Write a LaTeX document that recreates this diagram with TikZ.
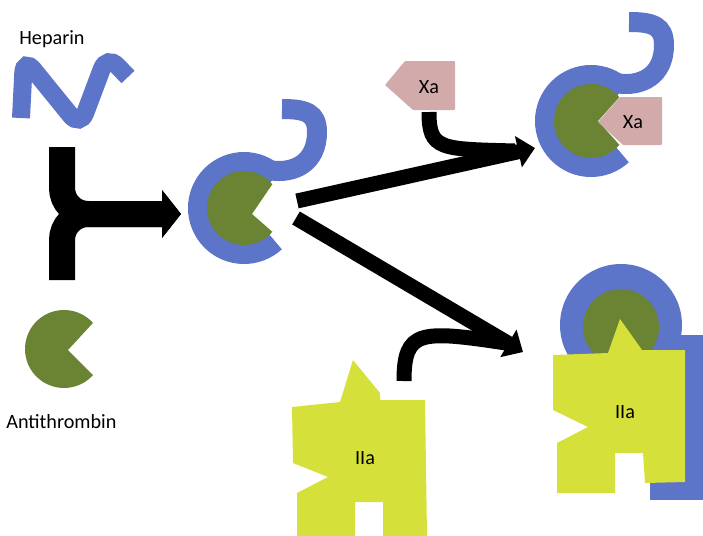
\documentclass[tikz,border=0pt]{standalone}
\usepackage{fontspec}
\setmainfont{Carlito}
\usetikzlibrary{arrows.meta}

\definecolor{heparinblue}{RGB}{93,117,200}
\definecolor{atgreen}{RGB}{107,132,51}
\definecolor{xapink}{RGB}{210,170,169}
\definecolor{thrombinyellow}{RGB}{213,224,58}

% one pixel of the layout grid
\newcommand{\PX}{0.02cm}
\newcommand{\RINGRADIUS}{46*\PX}
\newcommand{\GREENRADIUS}{37*\PX}

\tikzset{
  band/.style={draw=heparinblue, line width=20*\PX},
  flow/.style={draw=black, line width=15*\PX},
  flowtip/.style={-{Triangle[length=0.34cm, width=0.62cm]}},
  lbl/.style={font=\fontsize{11.5}{14}\selectfont, inner sep=0pt},
  % heparin wrapped round antithrombin, with its free hook
  pics/boundring/.style={code={
    \draw[band] (45:\RINGRADIUS) arc[start angle=45, end angle=313, radius=\RINGRADIUS];
    \draw[band] (55:\RINGRADIUS) .. controls (50,-34) and (73,-45) .. (73,-76)
      .. controls (73,-95) and (62,-99) .. (38,-99);
  }},
}

\begin{document}
\begin{tikzpicture}[x=\PX, y=-\PX]
    \useasboundingbox (0,0) rectangle (703,535);

    % heparin chain
    \draw[band, line width=18*\PX, rounded corners=0.3cm] (21,118) -- (24,58) -- (80,127) -- (107,55) -- (128,77);
    \node[lbl, anchor=west] (heparin) at (19,39) {Heparin};

    % antithrombin
    \begin{scope}[shift={(64,349)}]
        \fill[atgreen] (4,1) -- (42:39*\PX) arc[start angle=42, end angle=318, radius=39*\PX] -- cycle;
    \end{scope}
    \node[lbl, anchor=west] (antithrombin) at (6,422) {Antithrombin};

    % both meet and bind
    \coordinate (hepin) at (62,147);
    \coordinate (atin) at (62,280);
    \coordinate (mergetip) at (181,214);
    \draw[line width=26*\PX, rounded corners=0.52cm, -{Triangle[length=0.38cm, width=0.94cm]}] (hepin) |- (mergetip);
    \draw[line width=26*\PX, rounded corners=0.52cm, -{Triangle[length=0.38cm, width=0.94cm]}] (atin) |- (mergetip);

    % heparin-antithrombin complex
    \begin{scope}[shift={(244,208)}]
        \pic {boundring};
        \fill[atgreen] (8,6) -- (40:\GREENRADIUS) arc[start angle=40, end angle=320, radius=\GREENRADIUS] -- cycle;
    \end{scope}

    % free factor Xa
    \fill[xapink, rounded corners=0.5pt] (385,85) -- (405,61) -- (455,61) -- (455,110) -- (413,110) -- cycle;
    \node[lbl] (xa) at (429,87) {Xa};

    % complex with Xa
    \begin{scope}[shift={(591,121)}]
        \pic {boundring};
        \fill[atgreen] (7,0) -- (40:\GREENRADIUS) arc[start angle=40, end angle=320, radius=\GREENRADIUS] -- cycle;
        \fill[xapink, rounded corners=0.5pt] (7,1) -- (29,-24) -- (71,-24) -- (71,24) -- (32,24) -- cycle;
    \end{scope}
    \node[lbl] (xabound) at (633,122) {Xa};

    % free thrombin IIa
    \fill[thrombinyellow] (292,407) -- (340,402) -- (353,360) -- (380,393) -- (380,400) -- (425,400) -- (427,536)
        -- (383,536) -- (383,502) -- (355,502) -- (355,536) -- (297,536) -- (297,493) -- (328,477) -- (293,463) -- cycle;
    \node[lbl] (iia) at (365,458) {IIa};

    % complex with IIa
    \fill[heparinblue] (650,335) rectangle (703,500);
    \fill[heparinblue] (621,325) circle[radius=61*\PX];
    \fill[atgreen] (621,327) circle[radius=38*\PX];
    \fill[thrombinyellow] (553,355) -- (608,353) -- (620,319) -- (642,350) -- (685,350) -- (685,482) -- (645,483)
        -- (643,453) -- (615,453) -- (615,493) -- (557,493) -- (557,443) -- (588,427) -- (553,410) -- cycle;
    \node[lbl] (iiabound) at (625,412) {IIa};

    % reaction arrows
    \coordinate (splitup) at (297,201);
    \coordinate (xatip) at (535,148);
    \coordinate (splitdown) at (296,218);
    \coordinate (iiatip) at (523,352);
    \coordinate (xafeed) at (429,112);
    \coordinate (xajoin) at (515,151);
    \coordinate (iiafeed) at (404,381);
    \coordinate (iiajoin) at (506,343);
    \draw[flow, flowtip] (splitup) -- (xatip);
    \draw[flow] (xafeed) .. controls (429,150) and (440,149) .. (xajoin);
    \draw[flow, flowtip] (splitdown) -- (iiatip);
    \draw[flow] (iiafeed) .. controls (404,330) and (420,330) .. (iiajoin);

\end{tikzpicture}
\end{document}
